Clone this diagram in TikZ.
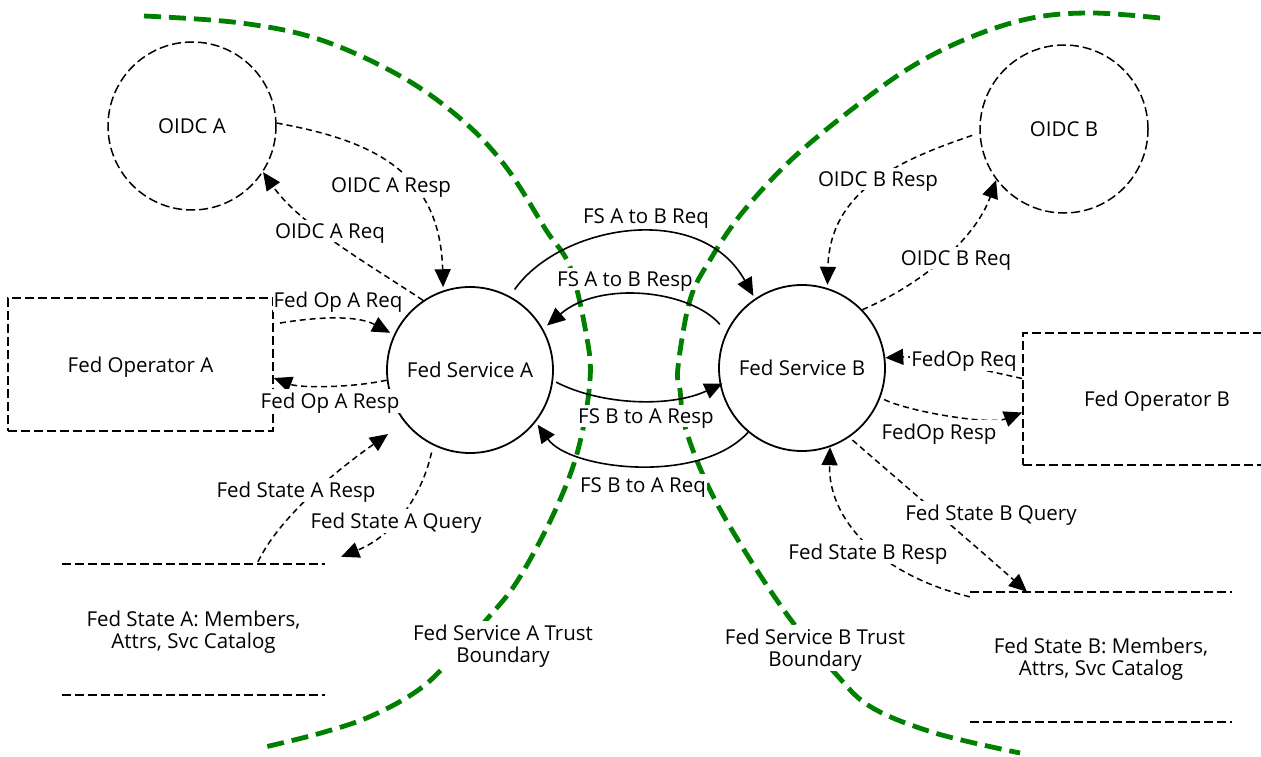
\documentclass[tikz,border=0pt]{standalone}
\usepackage{fontspec}
\setmainfont{Open Sans}
\usetikzlibrary{arrows.meta,calc}
\definecolor{trustgreen}{RGB}{0,128,0}

\begin{document}
\begin{tikzpicture}[x=1pt,y=-1pt,
  every node/.style={font=\fontsize{20.5}{22}\selectfont,text depth=0pt},
  proc/.style={circle,draw,line width=1.8pt,minimum size=166pt,inner sep=0pt},
  ext/.style={circle,draw,line width=1.5pt,dash pattern=on 9pt off 4pt,minimum size=168pt,inner sep=0pt},
  actor/.style={rectangle,draw,line width=1.9pt,dash pattern=on 9pt off 4pt,inner sep=0pt},
  store/.style={rectangle,inner sep=0pt,align=center},
  storeline/.style={line width=1.9pt,dash pattern=on 9pt off 4pt},
  flow/.style={line width=1.5pt,dash pattern=on 6pt off 4pt,-{Triangle[length=18pt,width=16pt]}},
  msg/.style={line width=1.6pt,-{Triangle[length=18pt,width=16pt]}},
  boundary/.style={draw=trustgreen,line width=4.8pt,dash pattern=on 17pt off 8pt},
  lbl/.style={fill=white,inner xsep=1pt,inner ysep=4pt,align=center}
]
\fill[white] (0,0) rectangle (1261,757);
\useasboundingbox (0,0) rectangle (1261,757);

% trust boundaries
\draw[boundary] plot[smooth,tension=0.6] coordinates {(144,16) (241,23) (321,40) (402,77) (462,120) (506,167) (546,230) (570,267) (586,333) (590,380) (578,450) (554,513) (518,580) (488,618) (444,667) (414,693) (369,717) (321,733) (265,747)};
\draw[boundary] plot[smooth,tension=0.6] coordinates {(1160,18) (1092,13) (1032,18) (971,37) (911,67) (851,110) (791,160) (742,213) (710,260) (690,300) (678,367) (680,390) (686,430) (710,490) (746,553) (791,620) (835,673) (871,707) (935,733) (1020,753)};

% processes and external entities
\node[ext] (oidcA) at (192,126) {OIDC A};
\node[ext] (oidcB) at (1064,129) {OIDC B};
\node[proc] (fsA) at (470,370) {Fed Service A};
\node[proc] (fsB) at (802,368) {Fed Service B};
\node[actor,minimum width=265pt,minimum height=133pt] (opA) at (140.5,364.5) {Fed Operator A};
\node[actor,minimum width=268pt,minimum height=132pt] (opB) at (1157,399) {Fed Operator B};

% data stores
\node[store,minimum width=263pt,minimum height=131pt] (stA) at (193.5,629.5) {Fed State A: Members,\\Attrs, Svc Catalog};
\node[store,minimum width=262pt,minimum height=130pt] (stB) at (1101,657) {Fed State B: Members,\\Attrs, Svc Catalog};
\draw[storeline] (stA.north west) -- (stA.north east) (stA.south west) -- (stA.south east);
\draw[storeline] (stB.north west) -- (stB.north east) (stB.south west) -- (stB.south east);

% flows on the A side
\draw[flow] (oidcA.2) .. controls (370,140) and (440,170) .. ($(fsA)+(108:87pt)$);
\draw[flow] ($(fsA)+(124:84pt)$) .. controls (370,265) and (300,225) .. (oidcA.327);
\draw[flow] ($(opA.north east)+(6pt,-26pt)$) .. controls (310,318) and (355,314) .. ($(fsA)+(155:88pt)$);
\draw[flow] (fsA.187) .. controls (350,388) and (300,388) .. ($(opA.east)+(0pt,-13.5pt)$);
\draw[flow] ($(stA.north)+(64.5pt,2pt)$) .. controls (278,520) and (330,475) .. ($(fsA)+(218:104pt)$);
\draw[flow] ($(fsA)+(245:91pt)$) .. controls (422,495) and (395,535) .. ($(stA.north east)+(16pt,7pt)$);

% flows between the services
\draw[msg] ($(fsA)+(61:92pt)$) .. controls (560,225) and (700,200) .. ($(fsB)+(124:87pt)$);
\draw[msg] ($(fsB)+(152:93pt)$) .. controls (690,290) and (600,280) .. ($(fsA)+(30:89pt)$);
\draw[msg] ($(fsA)+(352:87pt)$) .. controls (600,405) and (670,408) .. ($(fsB)+(191:81pt)$);
\draw[msg] ($(fsB)+(230:84pt)$) .. controls (700,485) and (570,470) .. ($(fsA)+(321:87pt)$);

% flows on the B side
\draw[flow] ($(oidcB)+(184:92pt)$) .. controls (900,160) and (830,190) .. ($(fsB)+(73:87pt)$);
\draw[flow] (fsB.44) .. controls (920,285) and (975,240) .. ($(oidcB)+(217:85pt)$);
\draw[flow] ($(opB.west)+(0pt,20.5pt)$) .. controls (975,368) and (920,356) .. (fsB.7);
\draw[flow] ($(fsB)+(339:88pt)$) .. controls (910,412) and (990,425) .. ($(opB.west)+(0pt,-13.5pt)$);
\draw[flow] ($(fsB)+(305:88pt)$) .. controls (910,490) and (980,550) .. ($(stB.north)+(-74pt,0pt)$);
\draw[flow] ($(stB.north west)+(0pt,-5pt)$) .. controls (880,575) and (828,520) .. ($(fsB)+(289.5:84pt)$);

% flow labels
\node[lbl] (lOAresp) at (391,185) {OIDC A Resp};
\node[lbl] (lOAreq) at (330,231) {OIDC A Req};
\node[lbl] (lOpAreq) at (338,300) {Fed Op A Req};
\node[lbl] (lOpAresp) at (330,401) {Fed Op A Resp};
\node[lbl] (lStAresp) at (296,490) {Fed State A Resp};
\node[lbl] (lStAq) at (396,521) {Fed State A Query};
\node[lbl] (lABreq) at (646,216) {FS A to B Req};
\node[lbl] (lABresp) at (625,279) {FS A to B Resp};
\node[lbl] (lBAresp) at (646,416) {FS B to A Resp};
\node[lbl] (lBAreq) at (643,485) {FS B to A Req};
\node[lbl] (lOBresp) at (878,179) {OIDC B Resp};
\node[lbl] (lOBreq) at (956,258) {OIDC B Req};
\node[lbl] (lOpBreq) at (964,359) {FedOp Req};
\node[lbl] (lOpBresp) at (939,432) {FedOp Resp};
\node[lbl] (lStBq) at (991,513) {Fed State B Query};
\node[lbl] (lStBresp) at (868,552) {Fed State B Resp};

% boundary labels
\node[lbl] (lTBA) at (503,644) {Fed Service A Trust\\Boundary};
\node[lbl] (lTBB) at (815,648) {Fed Service B Trust\\Boundary};
\end{tikzpicture}
\end{document}
